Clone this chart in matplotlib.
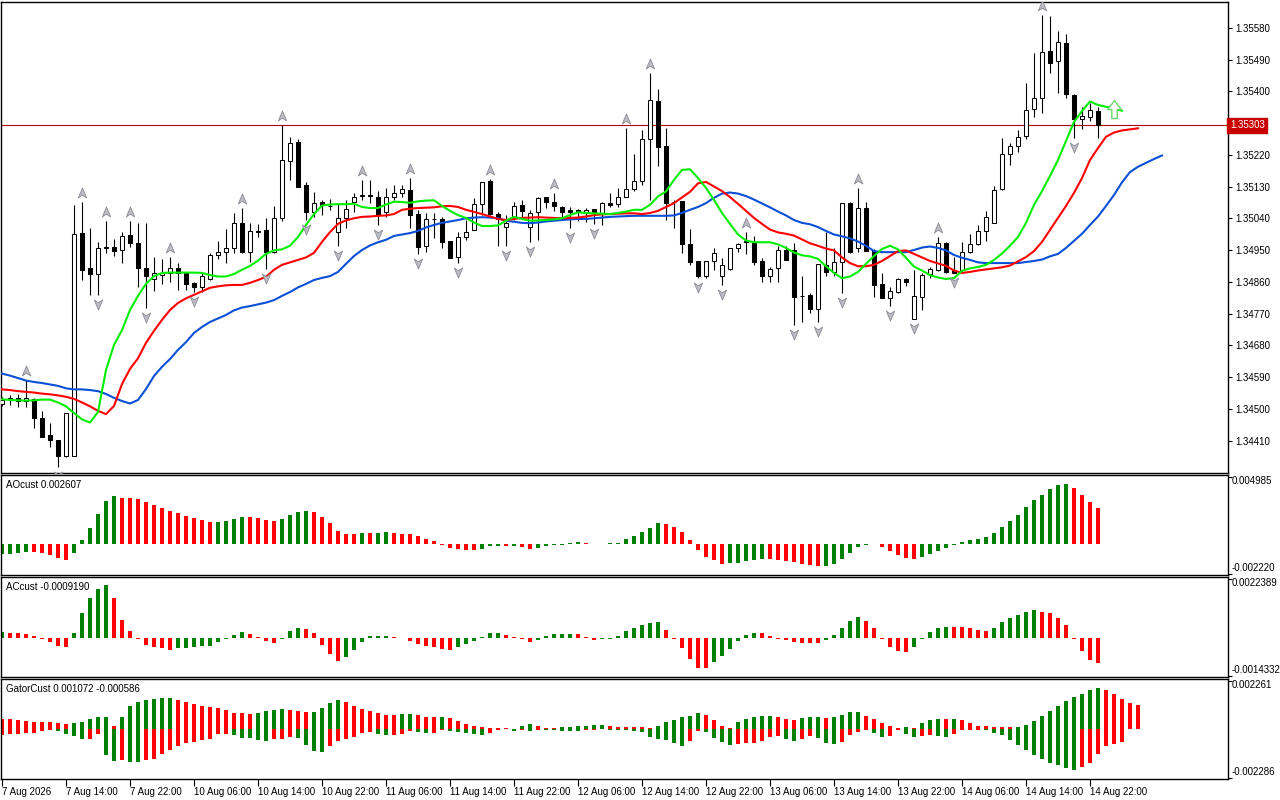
import matplotlib
matplotlib.use("Agg")
import matplotlib.pyplot as plt
import matplotlib.transforms as mtransforms
import numpy as np
from matplotlib.path import Path

plt.rcParams['font.family'] = ['Liberation Sans', 'DejaVu Sans']
plt.rcParams['font.size'] = 7

# hourly bars, 7 Aug 06:00 .. 14 Aug 23:00, prices in 1e-5 units
opens = [134514, 134529, 134530, 134523, 134527, 134473, 134426, 134412, 134366, 134367,
         134999, 134898, 134881, 134956, 134958, 134950, 134992, 134969, 134898, 134867,
         134879, 134884, 134898, 134884, 134856, 134845, 134868, 134936, 134944, 134955,
         135026, 134945, 135005, 135007, 134945, 135040, 135201, 135257, 135134, 135059,
         135085, 135075, 135000, 135040, 135085, 135104, 135105, 135101, 135059, 135100,
         135111, 135120, 135051, 134960, 135037, 135038, 134976, 134930, 134986, 135007,
         135080, 135146, 135051, 135016, 135040, 135077, 135016, 135057, 135099, 135085,
         135073, 135064, 135064, 135054, 135066, 135054, 135083, 135080, 135101, 135122,
         135147, 135264, 135373, 135245, 135087, 135089, 134966, 134919, 134875, 134919,
         134877, 134896, 134955, 134974, 134971, 134919, 134875, 134898, 134950, 134950,
         134821, 134823, 134782, 134908, 134889, 134915, 135083, 134957, 135069, 134947,
         134853, 134813, 134830, 134867, 134754, 134818, 134881, 134894, 134971, 134892,
         134892, 134944, 134966, 135004, 135026, 135122, 135222, 135246, 135273, 135349,
         135380, 135514, 135486, 135536, 135390, 135322, 135328, 135344]
highs = [134533, 134539, 134541, 134582, 134530, 134495, 134460, 134412, 134488, 135078,
         135087, 135012, 134974, 135031, 134981, 135002, 135033, 135026, 135026, 134931,
         134925, 134931, 134913, 134889, 134860, 134884, 134941, 134976, 135009, 135054,
         135069, 135026, 135023, 135040, 135075, 135305, 135271, 135264, 135144, 135115,
         135092, 135094, 135080, 135092, 135111, 135149, 135149, 135116, 135125, 135134,
         135134, 135154, 135064, 135054, 135054, 135045, 134976, 135002, 135035, 135097,
         135144, 135151, 135059, 135049, 135087, 135092, 135064, 135101, 135101, 135111,
         135076, 135073, 135067, 135069, 135066, 135087, 135111, 135125, 135296, 135222,
         135290, 135451, 135406, 135295, 135092, 135089, 135010, 134919, 134919, 134955,
         134927, 134957, 134971, 135002, 134990, 134927, 134903, 134962, 134960, 134971,
         134877, 134828, 134910, 135002, 134957, 135083, 135087, 135127, 135087, 134952,
         134884, 134846, 134872, 134872, 134894, 134884, 134903, 134988, 134974, 134931,
         134972, 134995, 135021, 135062, 135132, 135267, 135253, 135290, 135423, 135508,
         135616, 135612, 135571, 135562, 135392, 135355, 135368, 135356]
lows = [134508, 134511, 134506, 134506, 134446, 134421, 134392, 134335, 134363, 134366,
        134865, 134823, 134823, 134941, 134933, 134913, 134958, 134845, 134785, 134835,
        134854, 134860, 134837, 134837, 134832, 134832, 134865, 134925, 134913, 134941,
        134942, 134917, 134988, 134896, 134942, 135031, 135149, 135128, 135035, 135044,
        135049, 135064, 134962, 135012, 135059, 135092, 135083, 135021, 135045, 135092,
        135101, 135012, 134939, 134945, 134983, 134955, 134927, 134914, 134979, 135007,
        135049, 135049, 134962, 134960, 135035, 135045, 134974, 134979, 135069, 135061,
        135040, 135013, 135031, 135029, 135024, 135021, 135073, 135073, 135100, 135116,
        135134, 135092, 135189, 135035, 135012, 134941, 134908, 134870, 134872, 134894,
        134851, 134894, 134943, 134939, 134908, 134860, 134860, 134860, 134922, 134738,
        134747, 134771, 134747, 134875, 134875, 134829, 134941, 134943, 134947, 134818,
        134813, 134790, 134828, 134848, 134754, 134780, 134872, 134891, 134886, 134884,
        134889, 134941, 134964, 134976, 135026, 135120, 135191, 135227, 135264, 135326,
        135338, 135453, 135394, 135380, 135267, 135292, 135317, 135267]
closes = [134525, 134531, 134523, 134530, 134473, 134421, 134412, 134366, 134487, 134996,
          134892, 134882, 134955, 134958, 134947, 134990, 134971, 134898, 134877, 134884,
          134884, 134898, 134884, 134853, 134845, 134877, 134936, 134944, 134955, 135026,
          134945, 135004, 135002, 134943, 135040, 135205, 135253, 135130, 135059, 135084,
          135078, 135074, 135040, 135066, 135101, 135105, 135104, 135049, 135100, 135111,
          135122, 135049, 134958, 135038, 135038, 134974, 134928, 134986, 135002, 135080,
          135144, 135051, 135037, 135026, 135076, 135061, 135054, 135097, 135087, 135075,
          135057, 135059, 135057, 135064, 135054, 135083, 135078, 135101, 135122, 135146,
          135264, 135376, 135243, 135084, 135086, 134966, 134917, 134875, 134919, 134941,
          134908, 134955, 134966, 134975, 134917, 134877, 134896, 134950, 134922, 134818,
          134820, 134782, 134910, 134889, 134915, 135083, 134943, 135069, 134947, 134851,
          134813, 134834, 134867, 134859, 134820, 134879, 134896, 134969, 134889, 134886,
          134945, 134966, 135004, 135043, 135120, 135222, 135245, 135271, 135347, 135380,
          135512, 135480, 135539, 135392, 135321, 135331, 135347, 135303]

# alligator lines (shifted forward, so they run past the last bar)
jaw = [134600, 134594, 134587, 134580, 134576, 134573, 134569, 134565, 134558, 134555,
       134555, 134553, 134550, 134542, 134531, 134522, 134515, 134525, 134556, 134593,
       134619, 134641, 134667, 134689, 134715, 134732, 134746, 134756, 134766, 134779,
       134787, 134791, 134796, 134801, 134808, 134820, 134831, 134844, 134854, 134865,
       134871, 134876, 134888, 134911, 134933, 134950, 134963, 134972, 134979, 134990,
       134994, 134998, 135004, 135014, 135021, 135027, 135031, 135035, 135040, 135042,
       135043, 135042, 135040, 135033, 135030, 135027, 135026, 135028, 135031, 135033,
       135035, 135037, 135038, 135038, 135040, 135042, 135044, 135045, 135046, 135047,
       135047, 135047, 135047, 135047, 135048, 135055, 135064, 135072, 135083, 135098,
       135110, 135113, 135110, 135103, 135093, 135082, 135071, 135059, 135048, 135035,
       135027, 135023, 135015, 135004, 134994, 134989, 134983, 134974, 134962, 134947,
       134944, 134944, 134944, 134944, 134950, 134957, 134960, 134956, 134949, 134936,
       134928, 134922, 134915, 134913, 134913, 134913, 134913, 134913, 134916, 134919,
       134923, 134932, 134939, 134956, 134976, 134996, 135021, 135045, 135075, 135106,
       135142, 135171, 135186, 135197, 135208, 135218]
teeth = [134555, 134553, 134550, 134548, 134546, 134543, 134541, 134538, 134534, 134528,
         134518, 134507, 134494, 134485, 134508, 134570, 134613, 134643, 134687, 134721,
         134752, 134780, 134800, 134813, 134823, 134833, 134843, 134847, 134850, 134851,
         134851, 134857, 134865, 134874, 134894, 134908, 134915, 134922, 134929, 134942,
         134973, 135001, 135024, 135034, 135040, 135044, 135045, 135047, 135048, 135052,
         135064, 135067, 135069, 135070, 135071, 135074, 135075, 135072, 135064, 135058,
         135052, 135045, 135038, 135035, 135038, 135041, 135042, 135043, 135042, 135041,
         135040, 135041, 135042, 135045, 135049, 135051, 135052, 135053, 135054, 135054,
         135052, 135055, 135061, 135072, 135083, 135099, 135115, 135139, 135143, 135130,
         135117, 135100, 135081, 135061, 135041, 135024, 135008, 135000, 134996, 134991,
         134980, 134969, 134962, 134954, 134949, 134929, 134913, 134904, 134904, 134908,
         134919, 134933, 134947, 134949, 134939, 134929, 134919, 134912, 134905, 134892,
         134885, 134888, 134892, 134895, 134898, 134901, 134906, 134918, 134930, 134947,
         134973, 135007, 135041, 135075, 135112, 135154, 135205, 135239, 135271, 135283,
         135289, 135292, 135295]
lips = [134527, 134525, 134524, 134523, 134524, 134526, 134526, 134518, 134507, 134488,
        134470, 134461, 134491, 134610, 134681, 134723, 134780, 134820, 134854, 134876,
        134885, 134886, 134886, 134886, 134886, 134885, 134879, 134875, 134875, 134882,
        134894, 134905, 134920, 134939, 134949, 134952, 134962, 134987, 135021, 135052,
        135076, 135079, 135080, 135080, 135081, 135072, 135069, 135069, 135079, 135087,
        135086, 135084, 135088, 135090, 135091, 135075, 135061, 135049, 135041, 135028,
        135018, 135018, 135020, 135033, 135044, 135038, 135033, 135034, 135035, 135037,
        135040, 135049, 135057, 135055, 135054, 135053, 135052, 135055, 135059, 135064,
        135064, 135078, 135102, 135116, 135149, 135177, 135179, 135154, 135126, 135092,
        135055, 135024, 134994, 134977, 134972, 134972, 134972, 134966, 134956, 134943,
        134935, 134932, 134925, 134904, 134885, 134870, 134875, 134888, 134911, 134933,
        134953, 134962, 134952, 134928, 134903, 134892, 134879, 134872, 134868, 134870,
        134891, 134898, 134902, 134908, 134922, 134940, 134962, 134987, 135027, 135078,
        135117, 135160, 135205, 135259, 135313, 135344, 135371, 135361, 135356, 135351,
        135345]

# Bill Williams fractals (bar index)
fractal_up = [3, 10, 13, 16, 21, 30, 35, 45, 51, 61, 69, 78, 81, 93, 107, 117, 130]
fractal_down = [7, 12, 18, 24, 33, 38, 42, 47, 52, 57, 63, 66, 71, 74, 87, 90, 99,
                102, 105, 111, 114, 119, 134]
signal_bar = 139
signal_price = 135350
last_price = 135303

# oscillators, 1e-5 units
ao = [-72, -71, -65, -56, -58, -65, -80, -97, -113, -65,
      29, 116, 217, 314, 345, 333, 331, 326, 304, 282,
      261, 239, 222, 203, 188, 174, 157, 159, 167, 183,
      196, 193, 188, 176, 169, 181, 210, 234, 239, 229,
      196, 152, 92, 77, 72, 80, 79, 84, 85, 84,
      77, 70, 58, 36, 22, -7, -29, -36, -43, -44,
      -36, -14, -12, -14, -13, -22, -36, -29, -14, -7,
      -5, 5, 14, 7, -2, 2, 5, 7, 36, 58,
      87, 116, 152, 145, 123, 87, 29, -43, -94, -116,
      -145, -138, -137, -123, -116, -109, -110, -116, -123, -130,
      -145, -152, -159, -158, -145, -109, -65, -22, -5, -2,
      -22, -51, -80, -101, -109, -94, -72, -51, -29, -5,
      14, 29, 36, 51, 80, 123, 167, 210, 268, 319,
      355, 398, 427, 435, 406, 355, 304, 261]
ac = [21, 19, 18, 15, 7, -4, -14, -28, -32, 19,
      93, 145, 178, 193, 145, 67, 26, -4, -25, -32,
      -36, -43, -36, -35, -32, -31, -28, -14, -4, 11,
      22, 15, 4, -10, -17, -4, 26, 37, 33, 19,
      -25, -58, -84, -69, -43, -14, 7, 8, 9, 4,
      -1, -10, -22, -30, -33, -41, -44, -33, -22, -11,
      4, 19, 20, 11, 4, -4, -15, -7, 7, 15,
      15.5, 16, 14, 4, -7, -5, -4, 7, 26, 37,
      48, 56, 59, 30, -2, -37, -78, -111, -112, -89,
      -67, -41, -11, 11, 19, 18, 7, -2, -6, -14,
      -17, -18, -19, -6, 11, 37, 63, 78, 63, 37,
      -2, -32, -47, -51, -32, -5, 22, 37, 42, 41,
      40, 37, 30, 26, 37, 59, 74, 85, 96, 104,
      96, 93, 74, 48, -2, -47, -80, -92]
gator_up = [45, 44, 38, 33, 32, 31, 30, 28, 22, 28,
            30, 45, 54, 55, 14, 54, 105, 122, 130, 135,
            140, 141, 132, 122, 112, 105, 100, 93, 86, 72,
            70, 68, 72, 82, 86, 88, 86, 80, 76, 78,
            94, 117, 130, 122, 105, 90, 81, 72, 64, 63,
            68, 69, 64, 54, 52, 54, 50, 36, 22, 14,
            9, 5, 3, 2, 1, 14, 22, 14, 5, 4,
            9, 10, 11, 12, 18, 19, 14, 9, 8, 7,
            6, 3, 14, 32, 40, 54, 58, 72, 63, 40,
            14, 5, 32, 45, 54, 58, 59, 54, 45, 40,
            50, 54, 55, 50, 54, 63, 76, 77, 58, 45,
            27, 14, 5, 6, 5, 27, 40, 45, 44, 45,
            40, 27, 14, 13, 9, 8, 6, 9, 18, 33,
            57, 82, 105, 127, 145, 160, 178, 183, 178, 158,
            134, 116, 107]
gator_down = [30, 26, 23, 20, 18, 12, 8, 12, 26, 35,
              48, 45, 23, 120, 146, 140, 150, 151, 140, 138,
              116, 95, 80, 65, 62, 53, 45, 26, 23, 27,
              41, 42, 53, 57, 47, 45, 39, 41, 75, 102,
              105, 80, 57, 45, 38, 18, 15, 23, 30, 29,
              23, 12, 17, 18, 18, 5, 12, 14, 18, 23,
              27, 21, 5, 3, 12, 5, 12, 5, 6, 7,
              9, 10, 12, 8, 5, 3, 4, 5, 6, 9,
              14, 36, 45, 50, 63, 77, 54, 9, 14, 41,
              59, 72, 68, 66, 65, 54, 36, 35, 45, 54,
              45, 32, 41, 63, 68, 59, 27, 14, 5, 18,
              36, 35, 8, 23, 36, 32, 27, 32, 36, 23,
              5, 5, 4, 6, 18, 30, 53, 72, 98, 120,
              138, 155, 165, 180, 186, 174, 158, 113, 77, 68,
              59]

time_ticks = list(range(0, 137, 8))
time_labels = ["7 Aug 2026", "7 Aug 14:00", "7 Aug 22:00", "10 Aug 06:00", "10 Aug 14:00",
               "10 Aug 22:00", "11 Aug 06:00", "11 Aug 14:00", "11 Aug 22:00", "12 Aug 06:00",
               "12 Aug 14:00", "12 Aug 22:00", "13 Aug 06:00", "13 Aug 14:00", "13 Aug 22:00",
               "14 Aug 06:00", "14 Aug 14:00", "14 Aug 22:00"]
# 1.35310 sits under the price box, so it has no label
price_ticks = [134410, 134500, 134590, 134680, 134770, 134860, 134950, 135040, 135130,
               135220, 135310, 135400, 135490, 135580]

GREEN = '#008000'
RED = '#ff0000'
PT = 1e-5


def hist_colors(vals, first):
    cols = [first]
    for a, b in zip(vals[:-1], vals[1:]):
        cols.append(GREEN if b > a else RED)
    return cols


fig = plt.figure(figsize=(12.8, 8), dpi=100)
W, H = 1280.0, 800.0
left = 1 / W
width = 1227 / W
ax = fig.add_axes([left, 1 - 473 / H, width, 471 / H])
ax_ao = fig.add_axes([left, 1 - 575 / H, width, 100 / H])
ax_ac = fig.add_axes([left, 1 - 677 / H, width, 100 / H])
ax_g = fig.add_axes([left, 1 - 779 / H, width, 100 / H])

xlim = (-0.125, 153.25)
for a in (ax, ax_ao, ax_ac, ax_g):
    a.set_xlim(*xlim)
    for s in a.spines.values():
        s.set_linewidth(1.0)
        s.set_color('black')
    a.tick_params(axis='x', bottom=False, labelbottom=False)

# ---- main price panel
o = np.array(opens) * PT
h = np.array(highs) * PT
l = np.array(lows) * PT
c = np.array(closes) * PT
x = np.arange(len(o))
bull = c >= o
ax.vlines(x, l, h, color='black', lw=0.8, zorder=2)
ax.bar(x, np.maximum(np.abs(c - o), 1e-7), bottom=np.minimum(o, c), width=0.62,
       color=np.where(bull, 'white', 'black'), edgecolor='black', linewidth=0.75, zorder=3)

ax.plot(np.arange(len(jaw)), np.array(jaw) * PT, color='#0a4fd6', lw=1.5, zorder=4)
ax.plot(np.arange(len(teeth)), np.array(teeth) * PT, color='#ff0000', lw=1.5, zorder=4)
ax.plot(np.arange(len(lips)), np.array(lips) * PT, color='#00ee00', lw=1.5, zorder=4)

up_m = Path([(0, 1), (0.75, -0.8), (0, -0.3), (-0.75, -0.8), (0, 1)],
            [Path.MOVETO, Path.LINETO, Path.LINETO, Path.LINETO, Path.CLOSEPOLY])
dn_m = Path([(0, -1), (0.75, 0.8), (0, 0.3), (-0.75, 0.8), (0, -1)],
            [Path.MOVETO, Path.LINETO, Path.LINETO, Path.LINETO, Path.CLOSEPOLY])
tr_up = mtransforms.offset_copy(ax.transData, fig=fig, y=9, units='dots')
tr_dn = mtransforms.offset_copy(ax.transData, fig=fig, y=-9, units='dots')
fu = np.array(fractal_up)
fd = np.array(fractal_down)
ax.plot(fu, h[fu], ls='none', marker=up_m, ms=8, mfc='#bcbcc4', mec='#8a8a96',
        mew=0.6, transform=tr_up, zorder=5)
ax.plot(fd, l[fd], ls='none', marker=dn_m, ms=8, mfc='#bcbcc4', mec='#8a8a96',
        mew=0.6, transform=tr_dn, zorder=5)

arrow_m = Path([(-0.3, -1), (0.3, -1), (0.3, 0), (0.75, 0), (0, 1), (-0.75, 0), (-0.3, 0), (-0.3, -1)],
               [Path.MOVETO] + [Path.LINETO] * 6 + [Path.CLOSEPOLY])
ax.plot([signal_bar], [signal_price * PT], ls='none', marker=arrow_m, ms=13,
        mfc='white', mec='#6ad66a', mew=1.0, zorder=5)

ax.axhline(last_price * PT, color='#b00000', lw=0.8, zorder=1)
ax.set_ylim(1.34318, 1.35653)
ax.yaxis.tick_right()
ax.set_yticks(np.array(price_ticks) * PT)
ax.set_yticklabels(['' if v == 135310 else '%.5f' % (v * PT) for v in price_ticks])
ax.tick_params(axis='y', direction='out', length=3, width=0.8, pad=2, labelsize=7)
ax.text(1.0015, last_price * PT, '%.5f' % (last_price * PT), color='white', fontsize=7,
        va='center', ha='left', transform=ax.get_yaxis_transform(), zorder=10, clip_on=False,
        bbox=dict(boxstyle='square,pad=0.25', fc='#c80000', ec='#c80000'))

# ---- sub panels


def sub_panel(a, lo, hi, title, lo_txt, hi_txt):
    a.set_ylim(lo, hi)
    a.yaxis.tick_right()
    span = hi - lo
    a.set_yticks([lo + 0.015 * span, hi - 0.02 * span])
    a.set_yticklabels([])
    a.tick_params(axis='y', direction='out', length=3, width=0.8)
    a.text(1.003, 0.985, hi_txt, transform=a.transAxes, va='top', ha='left', fontsize=7)
    a.text(1.003, 0.02, lo_txt, transform=a.transAxes, va='bottom', ha='left', fontsize=7)
    a.text(0.004, 0.905, title, transform=a.transAxes, va='center', ha='left', fontsize=7)


ao_v = np.array(ao) * PT
ax_ao.bar(np.arange(len(ao_v)), ao_v, width=0.5, color=hist_colors(ao, GREEN), linewidth=0)
sub_panel(ax_ao, -0.002220, 0.004985, 'AOcust 0.002607', '-0.002220', '0.004985')

ac_v = np.array(ac) * PT
ax_ac.bar(np.arange(len(ac_v)), ac_v, width=0.5, color=hist_colors(ac, GREEN), linewidth=0)
sub_panel(ax_ac, -0.0014332, 0.0022389, 'ACcust -0.0009190', '-0.0014332', '0.0022389')

gu = np.array(gator_up) * PT
gd = np.array(gator_down) * PT
ax_g.bar(np.arange(len(gu)), gu, width=0.5, color=hist_colors(gator_up, RED), linewidth=0)
ax_g.bar(np.arange(len(gd)), -gd, width=0.5, color=hist_colors(gator_down, RED), linewidth=0)
sub_panel(ax_g, -0.002286, 0.002261, 'GatorCust 0.001072 -0.000586', '-0.002286', '0.002261')

ax_g.set_xticks(time_ticks)
ax_g.set_xticklabels(time_labels, ha='left')
ax_g.tick_params(axis='x', bottom=True, labelbottom=True, direction='out', length=5,
                 width=0.8, pad=1, labelsize=7)

fig.savefig('out.png', dpi=100, facecolor='white')
